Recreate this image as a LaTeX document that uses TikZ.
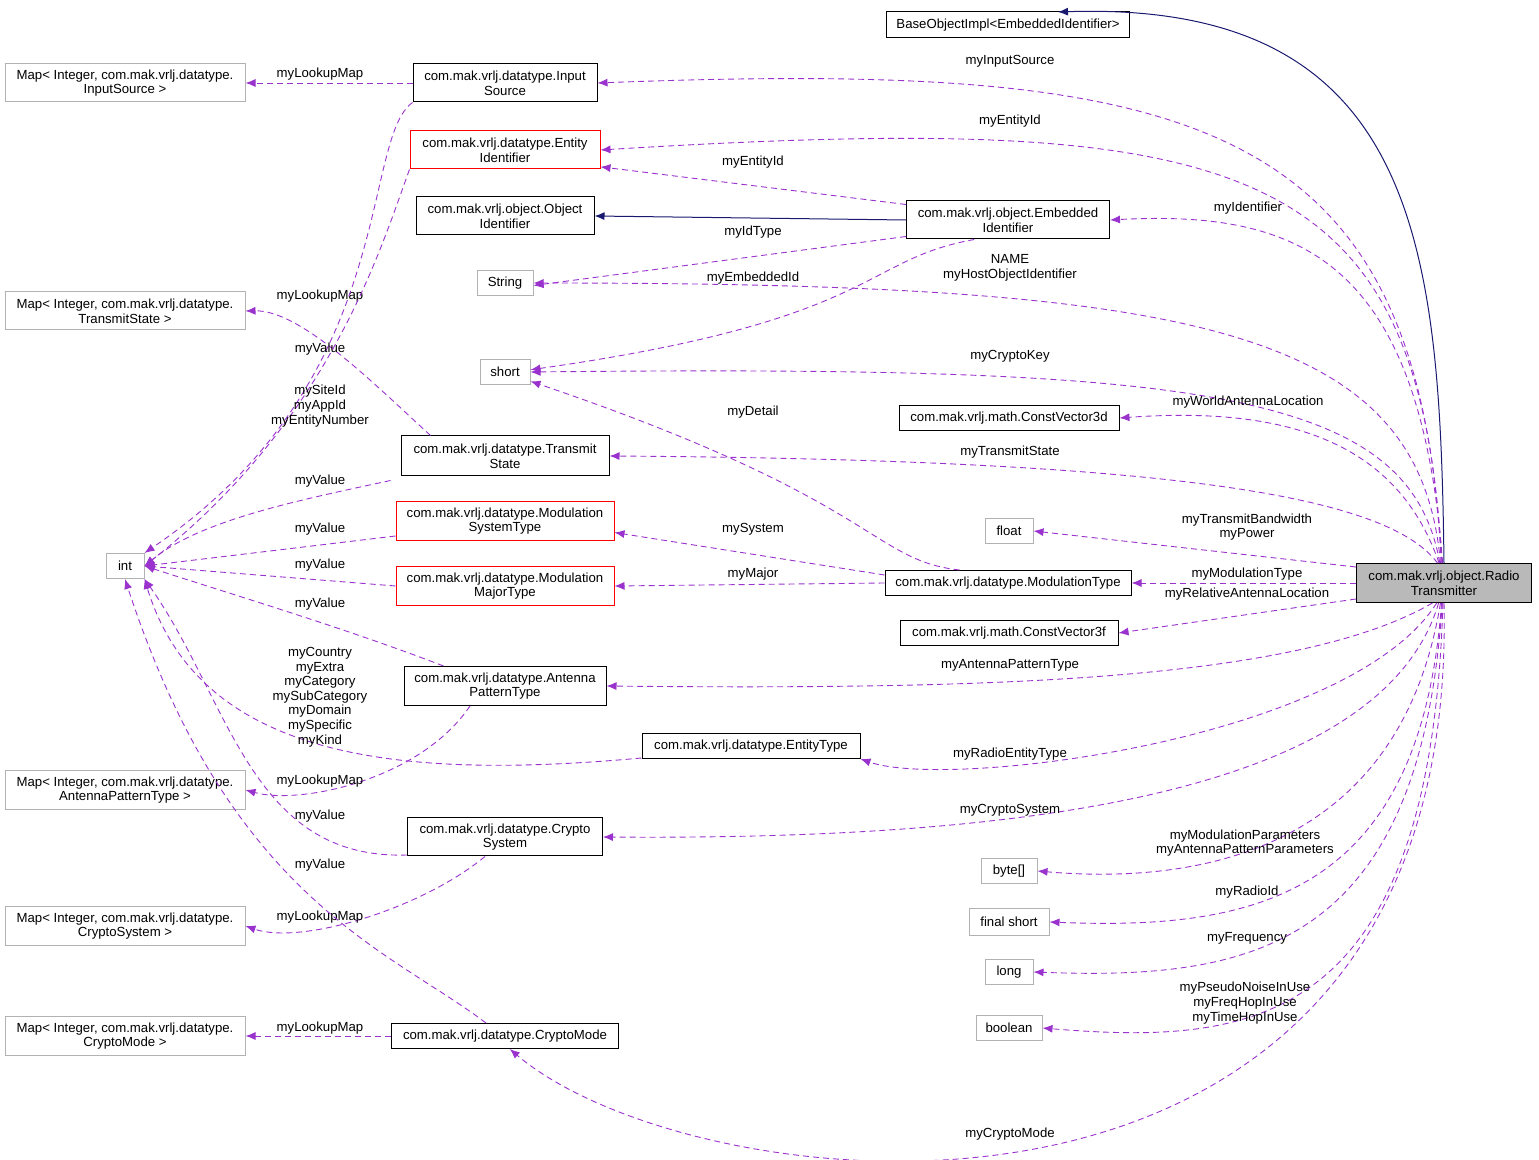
\documentclass[tikz,border=0pt]{standalone}
\usepackage{fontspec}
\setmainfont{Liberation Sans}
\usetikzlibrary{arrows.meta}
\definecolor{dep}{HTML}{9A32CD}
\definecolor{inh}{HTML}{191970}
\begin{document}
\begin{tikzpicture}[x=0.5pt,y=-0.5pt,
 every node/.style={font=\fontsize{6.6}{7.3}\selectfont,align=center,inner sep=1pt},
 bx/.style={draw=black,line width=0.5pt,inner sep=1.5pt},
 gx/.style={draw=gray!60,line width=0.5pt,inner sep=1.5pt},
 rx/.style={draw=red,line width=0.5pt,inner sep=1.5pt},
 dep/.style={draw=dep,dashed,dash pattern=on 3pt off 2pt,line width=0.45pt,-{Latex[length=5pt,width=4pt]}},
 inh/.style={draw=inh,line width=0.5pt,-{Latex[length=5pt,width=4pt]}},
 lb/.style={inner sep=0pt}]
\useasboundingbox (0,0) rectangle (1539,1160);
% nodes
\node[bx,minimum width=121.5pt,minimum height=13pt] (boi) at (1008,25) {BaseObjectImpl<EmbeddedIdentifier>};
\node[bx,minimum width=92pt,minimum height=19pt] (is) at (505,83) {com.mak.vrlj.datatype.Input\\Source};
\node[gx,minimum width=120pt,minimum height=19pt] (mis) at (125,83) {Map< Integer, com.mak.vrlj.datatype.\\InputSource >};
\node[rx,minimum width=95pt,minimum height=19pt] (eid) at (505,150) {com.mak.vrlj.datatype.Entity\\Identifier};
\node[bx,minimum width=89pt,minimum height=19pt] (oid) at (505,216) {com.mak.vrlj.object.Object\\Identifier};
\node[bx,minimum width=101.5pt,minimum height=19pt] (emb) at (1008,220) {com.mak.vrlj.object.Embedded\\Identifier};
\node[gx,minimum width=28pt,minimum height=12.5pt] (str) at (505,283) {String};
\node[gx,minimum width=120pt,minimum height=19pt] (mts) at (125,311) {Map< Integer, com.mak.vrlj.datatype.\\TransmitState >};
\node[gx,minimum width=25pt,minimum height=12.5pt] (sh) at (505,372) {short};
\node[bx,minimum width=110pt,minimum height=12.5pt] (cv3d) at (1009,418) {com.mak.vrlj.math.ConstVector3d};
\node[bx,minimum width=104pt,minimum height=20pt] (ts) at (505,456) {com.mak.vrlj.datatype.Transmit\\State};
\node[gx,minimum width=24pt,minimum height=12.5pt] (fl) at (1009,531) {float};
\node[gx,minimum width=19pt,minimum height=12.5pt] (int) at (125,566) {int};
\node[rx,minimum width=109pt,minimum height=19.5pt] (mst) at (505,521) {com.mak.vrlj.datatype.Modulation\\SystemType};
\node[rx,minimum width=109pt,minimum height=19.5pt] (mmt) at (505,586) {com.mak.vrlj.datatype.Modulation\\MajorType};
\node[bx,minimum width=123pt,minimum height=12.5pt] (mt) at (1008,583) {com.mak.vrlj.datatype.ModulationType};
\node[draw=black,fill=gray!55,line width=0.5pt,minimum width=87.5pt,minimum height=19.5pt] (rt) at (1444,583) {com.mak.vrlj.object.Radio\\Transmitter};
\node[bx,minimum width=109pt,minimum height=12.5pt] (cv3f) at (1009,633) {com.mak.vrlj.math.ConstVector3f};
\node[bx,minimum width=101pt,minimum height=19.5pt] (apt) at (505,686) {com.mak.vrlj.datatype.Antenna\\PatternType};
\node[bx,minimum width=109pt,minimum height=12.5pt] (et) at (751,746) {com.mak.vrlj.datatype.EntityType};
\node[gx,minimum width=120pt,minimum height=19.5pt] (mapt) at (125,790) {Map< Integer, com.mak.vrlj.datatype.\\AntennaPatternType >};
\node[bx,minimum width=97.5pt,minimum height=19pt] (cs) at (505,837) {com.mak.vrlj.datatype.Crypto\\System};
\node[gx,minimum width=28pt,minimum height=12.5pt] (by) at (1009,871) {byte[]};
\node[gx,minimum width=40pt,minimum height=13pt] (fs) at (1009,922) {final short};
\node[gx,minimum width=120pt,minimum height=19.5pt] (mcs) at (125,926) {Map< Integer, com.mak.vrlj.datatype.\\CryptoSystem >};
\node[gx,minimum width=24pt,minimum height=12.5pt] (lo) at (1009,972) {long};
\node[gx,minimum width=33pt,minimum height=12.5pt] (bo) at (1009,1028) {boolean};
\node[gx,minimum width=120pt,minimum height=19.5pt] (mcm) at (125,1036) {Map< Integer, com.mak.vrlj.datatype.\\CryptoMode >};
\node[bx,minimum width=113.5pt,minimum height=12.5pt] (cm) at (505,1036) {com.mak.vrlj.datatype.CryptoMode};
% inheritance
\coordinate (boit) at (1058,12);
\draw[inh] (rt.north) .. controls (1440,250) and (1420,0) .. (boit);
\draw[inh] (emb.west) -- (oid.east);
% from Radio
\draw[dep] (rt.98) .. controls (1420,120) and (1200,60) .. (is.east);
\node[lb] (l1) at (1010,61) {myInputSource};
\draw[dep] (rt.96) .. controls (1420,160) and (1250,110) .. (eid.east);
\node[lb] (l2) at (1010,121) {myEntityId};
\draw[dep] (rt.94) .. controls (1420,260) and (1300,210) .. (emb.east);
\node[lb] (l3) at (1248,208) {myIdentifier};
\draw[dep] (rt.100) .. controls (1420,330) and (1200,283) .. (str.east);
\node[lb] (l4) at (1010,268) {NAME\\myHostObjectIdentifier};
\draw[dep] (rt.102) .. controls (1410,390) and (1200,365) .. (sh.east);
\node[lb] (l5) at (1010,356) {myCryptoKey};
\draw[dep] (rt.104) .. controls (1400,450) and (1300,405) .. (cv3d.east);
\node[lb] (l6) at (1248,402) {myWorldAntennaLocation};
\draw[dep] (rt.108) .. controls (1390,500) and (1200,460) .. (ts.east);
\node[lb] (l7) at (1010,452) {myTransmitState};
\draw[dep] (rt.west) ++(0,-16) -- (fl.east);
\node[lb] (l8) at (1247,527) {myTransmitBandwidth\\myPower};
\draw[dep] (rt.west) -- (mt.east);
\node[lb] (l9) at (1247,574) {myModulationType};
\draw[dep] (rt.west) ++(0,16) -- (cv3f.east);
\node[lb] (l10) at (1247,594) {myRelativeAntennaLocation};
\draw[dep] (rt.-120) .. controls (1300,680) and (1000,690) .. (apt.east);
\node[lb] (l11) at (1010,665) {myAntennaPatternType};
\draw[dep] (rt.-110) .. controls (1350,740) and (950,790) .. (et.south east);
\node[lb] (l12) at (1010,754) {myRadioEntityType};
\draw[dep] (rt.-105) .. controls (1380,800) and (1000,840) .. (cs.east);
\node[lb] (l13) at (1010,810) {myCryptoSystem};
\draw[dep] (rt.-100) .. controls (1400,850) and (1200,885) .. (by.east);
\node[lb] (l14) at (1245,843) {myModulationParameters\\myAntennaPatternParameters};
\draw[dep] (rt.-97) .. controls (1420,900) and (1250,930) .. (fs.east);
\node[lb] (l15) at (1247,892) {myRadioId};
\draw[dep] (rt.-95) .. controls (1420,950) and (1250,980) .. (lo.east);
\node[lb] (l16) at (1247,938) {myFrequency};
\draw[dep] (rt.-93) .. controls (1430,1030) and (1250,1045) .. (bo.east);
\node[lb] (l17) at (1245,1003) {myPseudoNoiseInUse\\myFreqHopInUse\\myTimeHopInUse};
\draw[dep] (rt.-90) .. controls (1460,1290) and (700,1210) .. (cm.-70);
\node[lb] (l18) at (1010,1134) {myCryptoMode};
% from EmbeddedIdentifier
\draw[dep] (emb.north west) ++(0,4) -- (eid.-10);
\node[lb] (l19) at (753,162) {myEntityId};
\draw[dep] (emb.south west) ++(0,-3) -- (str.-5);
\node[lb] (l20) at (753,232) {myIdType};
\draw[dep] (emb.-150) .. controls (860,260) and (880,320) .. (sh.5);
\node[lb] (l21) at (753,278) {myEmbeddedId};
% from ModulationType
\draw[dep] (mt.west) ++(0,-8) -- (mst.-6);
\node[lb] (l22) at (753,529) {mySystem};
\draw[dep] (mt.west) -- (mmt.east);
\node[lb] (l23) at (753,574) {myMajor};
\draw[dep] (mt.165) .. controls (870,560) and (880,500) .. (sh.-20);
\node[lb] (l24) at (753,412) {myDetail};
% lookup maps
\draw[dep] (is.west) -- (mis.east);
\node[lb] (l25) at (320,74) {myLookupMap};
\draw[dep] (ts.north west) ++(30,0) .. controls (370,380) and (300,310) .. (mts.east);
\node[lb] (l26) at (320,296) {myLookupMap};
\draw[dep] (apt.south) ++(-35,0) .. controls (420,780) and (300,805) .. (mapt.east);
\node[lb] (l27) at (320,781) {myLookupMap};
\draw[dep] (cs.south) ++(-20,0) .. controls (420,910) and (300,945) .. (mcs.east);
\node[lb] (l28) at (320,917) {myLookupMap};
\draw[dep] (cm.west) -- (mcm.east);
\node[lb] (l29) at (320,1028) {myLookupMap};
% to int
\draw[dep] (is.south west) .. controls (360,140) and (400,380) .. (int.north east);
\node[lb] (l30) at (320,349) {myValue};
\draw[dep] (eid.south west) .. controls (380,250) and (330,420) .. (int.east);
\node[lb] (l31) at (320,406) {mySiteId\\myAppId\\myEntityNumber};
\draw[dep] (ts.south west) ++(-10,4) .. controls (300,500) and (200,520) .. (int.east);
\node[lb] (l32) at (320,481) {myValue};
\draw[dep] (mst.west) ++(0,15) -- (int.east);
\node[lb] (l33) at (320,529) {myValue};
\draw[dep] (mmt.west) -- (int.east);
\node[lb] (l34) at (320,565) {myValue};
\draw[dep] (apt.north west) ++(40,0) .. controls (350,630) and (250,600) .. (int.east);
\node[lb] (l35) at (320,604) {myValue};
\draw[dep] (et.west) ++(0,12) .. controls (400,780) and (200,760) .. (int.south east);
\node[lb] (l36) at (320,697) {myCountry\\myExtra\\myCategory\\mySubCategory\\myDomain\\mySpecific\\myKind};
\draw[dep] (cs.west) ++(0,18) .. controls (250,860) and (230,700) .. (int.south east);
\node[lb] (l37) at (320,816) {myValue};
\draw[dep] (cm.north west) ++(95,0) .. controls (390,950) and (230,900) .. (int.south);
\node[lb] (l38) at (320,865) {myValue};
\end{tikzpicture}
\end{document}
